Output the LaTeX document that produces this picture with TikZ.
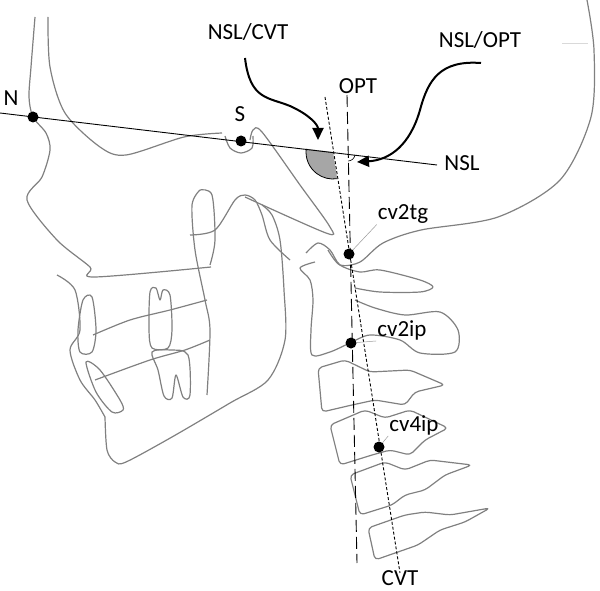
\documentclass[tikz,border=0pt]{standalone}
\usepackage{fontspec}
\setmainfont{Carlito}
\usetikzlibrary{arrows.meta}

\tikzset{
  bone/.style={draw=black!50, line width=1.2pt, line join=round},
  dot/.style={circle, fill=black, inner sep=0pt, minimum size=11pt},
  lbl/.style={font=\fontsize{23}{23}\selectfont, inner sep=1pt},
  leader/.style={draw=black!40, line width=0.5pt},
  bigarrow/.style={line width=2pt, -{Triangle[length=12pt,width=11pt]}},
}

\begin{document}
\begin{tikzpicture}[x=1pt,y=-1pt]
\useasboundingbox (0,0) rectangle (600,591);
%% skull and face
\draw[bone] plot[smooth] coordinates {(35,17) (31,67) (29,97) (33,117) (46,133) (50,150) (42,177) (27,200) (57,240) (90,267) (94,277) (211,267)};
\draw[bone] plot[smooth] coordinates {(48,17) (50,67) (65,113) (100,147) (126,155) (184,137) (222,133)};
\draw[bone] plot[smooth] coordinates {(225,136) (230,148) (241,153) (252,148) (253,136)};
\draw[bone] plot[smooth] coordinates {(250,140) (253,130) (262,132) (300,185) (330,227) (326,233) (245,197)};
\draw[bone] plot[smooth] coordinates {(587,0) (594,50) (591,117) (560,180) (498,217) (421,230) (383,243) (360,262) (340,265) (328,250)};
\draw[black!15, line width=0.6pt] (562,43) -- (588,43);
%% maxilla and mandible
\draw[bone] plot[smooth] coordinates {(57,275) (75,290) (80,330) (70,350) (80,380) (95,400) (105,417)};
\draw[bone] plot[smooth] coordinates {(105,417) (107,450) (115,462) (126,462) (172,437) (230,403) (268,380) (285,340) (284,290) (280,240) (272,215) (262,205)};
\draw[bone] plot[smooth] coordinates {(200,190) (192,205) (195,250) (205,300) (210,330) (207,395)};
\draw[bone] plot[smooth] coordinates {(200,190) (212,195) (215,240) (210,265)};
\draw[bone] plot[smooth] coordinates {(190,235) (215,230) (235,200) (245,195) (255,200) (262,215) (270,240) (290,260)};
\draw[bone] plot[smooth] coordinates {(93,335) (130,320) (170,310) (207,300)};
\draw[bone] plot[smooth] coordinates {(95,380) (150,360) (185,350) (210,340)};
%% teeth
\draw[bone] plot[smooth cycle] coordinates {(150,292) (156,288) (160,300) (163,290) (170,295) (172,330) (168,348) (152,348) (149,330)};
\draw[bone] plot[smooth cycle] coordinates {(152,352) (170,350) (188,355) (190,395) (183,397) (176,375) (172,398) (164,396) (158,370)};
\draw[bone] plot[smooth cycle] coordinates {(83,300) (92,297) (96,330) (92,352) (80,352) (78,330)};
\draw[bone] plot[smooth cycle] coordinates {(86,362) (100,370) (120,400) (123,410) (112,412) (96,392)};
%% vertebrae
\draw[bone] plot[smooth] coordinates {(306,253) (318,243) (330,250) (340,265) (360,272) (380,270) (420,280) (433,287) (420,292) (380,292) (355,288)};
\draw[bone] plot[smooth] coordinates {(315,262) (300,268) (310,280) (313,300) (311,330) (312,355) (330,352) (350,343) (370,335) (400,340) (420,353) (455,352) (458,330) (440,312) (405,315) (375,308) (355,300)};
\draw[bone, rounded corners=4pt] (318,368) -- (345,360) -- (370,372) -- (410,370) -- (445,385) -- (415,392) -- (405,405) -- (375,400) -- (352,405) -- (322,412) -- cycle;
\draw[bone, rounded corners=4pt] (330,425) -- (365,410) -- (385,418) -- (410,410) -- (448,428) -- (425,440) -- (410,455) -- (390,450) -- (372,455) -- (340,465) -- cycle;
\draw[bone, rounded corners=4pt] (350,475) -- (385,462) -- (405,470) -- (430,460) -- (472,465) -- (445,475) -- (425,490) -- (405,495) -- (392,505) -- (360,515) -- cycle;
\draw[bone, rounded corners=4pt] (368,528) -- (405,515) -- (425,512) -- (450,515) -- (490,508) -- (465,522) -- (440,530) -- (418,545) -- (375,560) -- cycle;
%% reference lines
\coordinate (nslL) at (0,113);
\coordinate (nslR) at (437,165);
\coordinate (optT) at (347,95);
\coordinate (optB) at (357,563);
\coordinate (cvtT) at (325,97);
\coordinate (cvtB) at (400,573);
%% angles
\fill[black!35] (333,152) -- ++(186.8:27) arc[start angle=186.8, end angle=81, radius=27] -- cycle;
\draw[line width=0.8pt] (333,152) ++(186.8:27) arc[start angle=186.8, end angle=81, radius=27];
\draw[line width=0.6pt] (348,154) ++(6.8:7) arc[start angle=6.8, end angle=88.5, radius=7];
\draw[line width=0.9pt] (nslL) -- (nslR);
\draw[line width=0.9pt, dash pattern=on 12pt off 5pt] (optT) -- (optB);
\draw[line width=0.9pt, dash pattern=on 3pt off 2pt] (cvtT) -- (cvtB);
%% points
\node[dot] (N) at (33,117) {};
\node[dot] (S) at (241,141) {};
\node[dot] (cv2tg) at (349,254) {};
\node[dot] (cv2ip) at (351,343) {};
\node[dot] (cv4ip) at (379,447) {};
%% labels
\node[lbl] (Nlbl) at (11,98) {N};
\node[lbl] (Slbl) at (240,114) {S};
\node[lbl] (nslLbl) at (462,163) {NSL};
\node[lbl] (optLbl) at (358,86) {OPT};
\node[lbl] (cvtLbl) at (400,578) {CVT};
\node[lbl] (cv2tgLbl) at (403,214) {cv2tg};
\node[lbl] (cv2ipLbl) at (402,330) {cv2ip};
\node[lbl] (cv4ipLbl) at (414,425) {cv4ip};
\node[lbl] (nslCvt) at (248,32) {NSL/CVT};
\node[lbl] (nslOpt) at (480,40) {NSL/OPT};
\draw[leader] (cv2tgLbl.south west) -- (cv2tg);
\draw[leader] (cv2ipLbl.south west) -- (cv2ip);
\draw[leader] (cv4ipLbl.south west) -- (cv4ip);
%% curved arrows
\draw[bigarrow] (245,58) .. controls (250,100) and (268,97) .. (290,106) .. controls (310,115) and (318,125) .. (318,140);
\draw[bigarrow] (481,63) .. controls (440,60) and (428,80) .. (420,110) .. controls (410,145) and (390,160) .. (357,162);
\end{tikzpicture}
\end{document}
